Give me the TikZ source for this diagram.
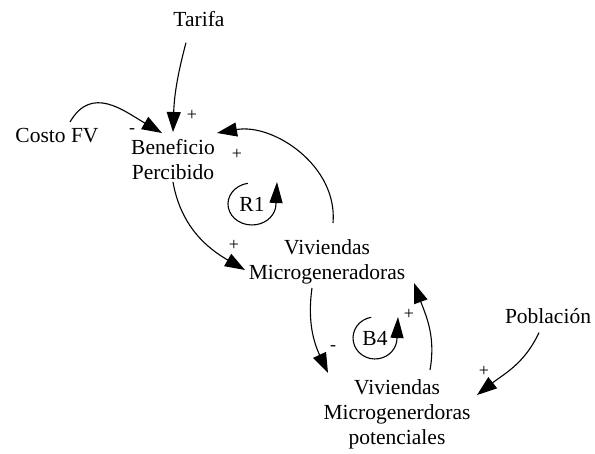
\documentclass[tikz,border=0pt]{standalone}
\usepackage{fontspec}
\setmainfont{Liberation Serif}
\usetikzlibrary{arrows.meta,calc}
\begin{document}
\begin{tikzpicture}[x=1pt,y=1pt,
  var/.style={inner sep=0pt,align=center,font=\fontsize{21.5}{25}\selectfont},
  pol/.style={inner sep=0pt,font=\fontsize{18}{20}\selectfont},
  lnk/.style={line width=1.1pt,-{Triangle[length=20pt,width=14pt]}},
  loopar/.style={line width=1.1pt,-{Triangle[length=21pt,width=13pt]}},
  looplbl/.style={inner sep=0pt,font=\fontsize{21.5}{25}\selectfont},
]
\path[use as bounding box] (0,0) rectangle (595,453);
% variables
\node[var] (tar) at (199,434.3) {Tarifa};
\node[var] (cfv) at (57,317) {Costo FV};
\node[var] (ben) at (173,293) {Beneficio\\Percibido};
\node[var] (vm)  at (327,191.5) {Viviendas\\Microgeneradoras};
\node[var] (pob) at (548,136.4) {Población};
\node[var] (vmp) at (397,39) {Viviendas\\Microgenerdoras\\potenciales};
% loop labels
\node[looplbl] (r1) at (252,249) {R1};
\node[looplbl] (b4) at (375,115) {B4};
% links
\draw[lnk] ($(tar)+(-13,-24)$) to[out=255,in=88] ($(ben)+(0,28)$);
\draw[lnk] ($(cfv)+(13,14)$) to[out=60,in=150,looseness=1.2] ($(ben)+(-11,27)$);
\draw[lnk] ($(vm)+(6,38.5)$) to[out=85,in=10] ($(ben)+(44,27)$);
\draw[lnk] ($(ben)+(0,-22)$) to[out=-80,in=150] ($(vm)+(-82,-8.5)$);
\draw[lnk] ($(vm)+(-15,-26.5)$) to[out=262,in=115] ($(vmp)+(-69,41)$);
\draw[lnk] ($(vmp)+(33,44)$) to[out=80,in=-70] ($(vm)+(87,-21.5)$);
\draw[lnk] ($(pob)+(-9,-16)$) to[out=245,in=38] ($(vmp)+(80,19)$);
% polarities
\node[pol] (p1) at (192,338) {+};
\node[pol] (p2) at (132,322) {-};
\node[pol] (p3) at (237,299) {+};
\node[pol] (p4) at (234,208) {+};
\node[pol] (p5) at (333,105) {-};
\node[pol] (p6) at (409,139) {+};
\node[pol] (p7) at (484,82) {+};
% loop arrows
\draw[loopar] ($(r1)+(-4.2,20.7)$) arc[start angle=100,end angle=360,x radius=24,y radius=21] -- ($(r1)+(25,22)$);
\draw[loopar] ($(b4)+(-3.8,20.7)$) arc[start angle=100,end angle=360,x radius=22,y radius=21] -- ($(b4)+(23,21)$);
\end{tikzpicture}
\end{document}
